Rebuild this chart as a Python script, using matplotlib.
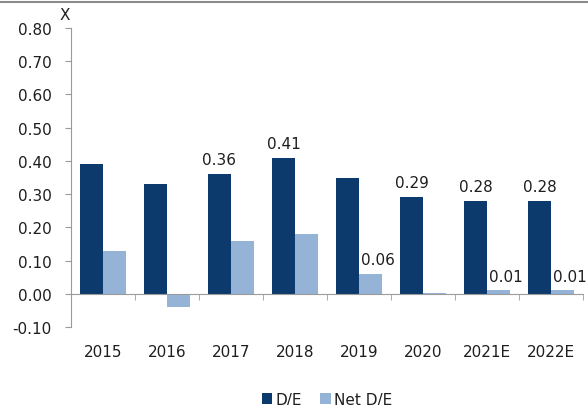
import numpy as np
import matplotlib
matplotlib.use("Agg")
import matplotlib.pyplot as plt
from matplotlib.lines import Line2D

# Gearing: debt-to-equity and net debt-to-equity, x
years = ["2015", "2016", "2017", "2018", "2019", "2020", "2021E", "2022E"]
de_ratio = [0.39, 0.33, 0.36, 0.41, 0.35, 0.29, 0.28, 0.28]
net_de_ratio = [0.13, -0.04, 0.16, 0.18, 0.06, 0.002, 0.01, 0.01]

# which bars carry a value label
de_labelled = [False, False, True, True, False, True, True, True]
net_labelled = [False, False, False, False, True, False, True, True]

DARK = "#0c3a6d"
LIGHT = "#95b3d7"
AXIS = "#9a9a9a"
TEXT = "#1e1e1e"

plt.rcParams["font.family"] = "DejaVu Sans"

fig = plt.figure(figsize=(5.88, 4.06), dpi=100)
ax = fig.add_axes([71 / 588, 1 - 328 / 406, 512 / 588, 299 / 406])

x = np.arange(len(years))
w = 0.36
ax.bar(x - w / 2, de_ratio, w, color=DARK, label="D/E")
ax.bar(x + w / 2, net_de_ratio, w, color=LIGHT, label="Net D/E")

for xi, v, show in zip(x, de_ratio, de_labelled):
    if show:
        ax.annotate(f"{v:.2f}", (xi - w / 2, v), xytext=(0, 5),
                    textcoords="offset points", ha="center", va="bottom",
                    fontsize=11, color=TEXT)
for xi, v, show in zip(x, net_de_ratio, net_labelled):
    if show:
        ax.annotate(f"{v:.2f}", (xi + w / 2, v), xytext=(5, 5),
                    textcoords="offset points", ha="center", va="bottom",
                    fontsize=11, color=TEXT)

ax.set_xlim(-0.5, len(years) - 0.5)
ax.set_ylim(-0.10, 0.80)
ax.set_yticks(np.arange(-0.1, 0.81, 0.1))
ax.set_yticklabels([f"{t:.2f}" for t in np.arange(-0.1, 0.81, 0.1)])

# zero line carries the category separators, year labels sit below the plot
ax.spines["bottom"].set_position(("data", 0))
ax.spines["bottom"].set_color(AXIS)
ax.spines["left"].set_color(AXIS)
ax.spines["top"].set_visible(False)
ax.spines["right"].set_visible(False)
ax.set_xticks(x)
ax.set_xticklabels(years)
ax.set_xticks(np.arange(0.5, len(years)), minor=True)
ax.tick_params(axis="x", which="major", length=0, pad=36, labelsize=11,
               labelcolor=TEXT)
ax.tick_params(axis="x", which="minor", length=4, direction="out", color=AXIS)
ax.tick_params(axis="y", length=4, direction="out", color=AXIS, pad=10,
               labelsize=11, labelcolor=TEXT)

ax.text(-0.012, 1.02, "X", transform=ax.transAxes, ha="center", va="bottom",
        fontsize=11, color=TEXT)

ax.legend(loc="lower center", bbox_to_anchor=(0.5, -0.312), ncol=2,
          frameon=False, fontsize=11, handlelength=0.7, handleheight=0.7,
          handletextpad=0.2, columnspacing=1.2, labelcolor=TEXT)

# rule across the top of the exhibit
fig.add_artist(Line2D([0, 1], [1 - 2.5 / 406] * 2, transform=fig.transFigure,
                      color="#8c8c8c", lw=1.5))

fig.savefig("out.png", dpi=100)
